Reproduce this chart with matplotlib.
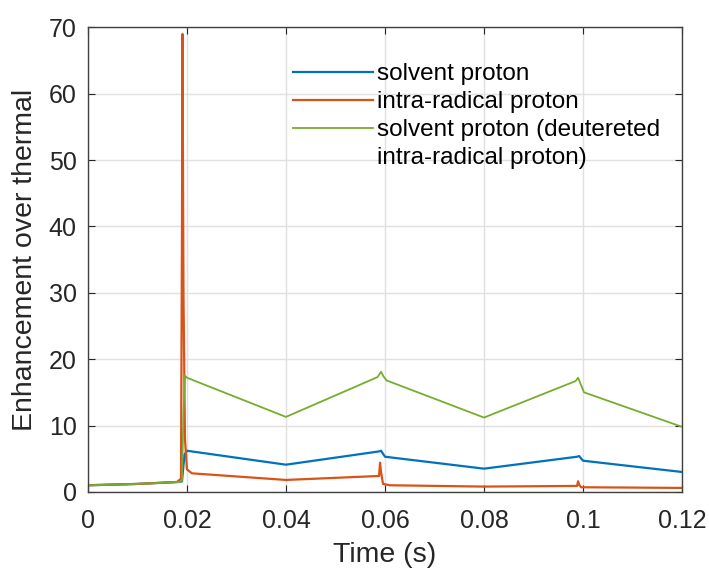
import numpy as np
import matplotlib
matplotlib.use('Agg')
import matplotlib.pyplot as plt
from matplotlib.lines import Line2D

plt.rcParams['font.family'] = ['Liberation Sans', 'DejaVu Sans']

# solvent proton (blue)
t_solv = [0, 0.010, 0.0185, 0.0190, 0.0195, 0.0200, 0.0400, 0.0588, 0.0592, 0.0600,
          0.0800, 0.0988, 0.0992, 0.1000, 0.1200]
v_solv = [1.0, 1.2, 1.5, 1.6, 5.6, 6.2, 4.1, 6.1, 6.2, 5.3,
          3.5, 5.3, 5.4, 4.7, 3.0]

# intra-radical proton (orange)
t_intra = [0, 0.010, 0.0180, 0.0188, 0.0190, 0.0191, 0.0193, 0.0196, 0.0200, 0.0210,
           0.0400, 0.0588, 0.0590, 0.0592, 0.0596, 0.0610, 0.0800, 0.0988, 0.0990,
           0.0992, 0.0996, 0.1000, 0.1200]
v_intra = [1.0, 1.2, 1.5, 2.0, 40.0, 69.0, 30.0, 8.0, 3.4, 2.8,
           1.8, 2.4, 4.4, 3.0, 1.2, 1.0, 0.8, 0.9, 1.6,
           1.1, 0.7, 0.7, 0.6]

# solvent proton, deuterated intra-radical proton (green)
t_deut = [0, 0.010, 0.0185, 0.0190, 0.0193, 0.0196, 0.0200, 0.0400, 0.0585, 0.0592,
          0.0597, 0.0603, 0.0800, 0.0985, 0.0990, 0.1002, 0.1200]
v_deut = [1.0, 1.2, 1.5, 1.7, 12.0, 17.5, 17.2, 11.3, 17.3, 18.1,
          17.4, 16.8, 11.2, 16.7, 17.2, 15.0, 9.8]

labels = ['solvent proton', 'intra-radical proton',
          'solvent proton (deutereted', 'intra-radical proton)']

fig = plt.figure(figsize=(7.09, 5.69), dpi=100)
ax = fig.add_axes([0.124, 0.1355, 0.838, 0.8165])

l1, = ax.plot(t_solv, v_solv, color='#0072BD', lw=1.6)
l2, = ax.plot(t_intra, v_intra, color='#D95319', lw=1.6)
l3, = ax.plot(t_deut, v_deut, color='#77AC30', lw=1.3)

ax.set_xlim(0, 0.12)
ax.set_ylim(0, 70)
ax.set_xticks([0, 0.02, 0.04, 0.06, 0.08, 0.1, 0.12])
ax.set_xticklabels(['0', '0.02', '0.04', '0.06', '0.08', '0.1', '0.12'])
ax.set_yticks(range(0, 80, 10))
ax.grid(True, color='#e0e0e0', lw=1.0)
ax.set_axisbelow(True)
ax.tick_params(direction='in', top=True, right=True, labelsize=18,
               length=5, color='#262626', labelcolor='#262626')
ax.tick_params(axis='x', pad=12)
ax.tick_params(axis='y', pad=8)
for s in ax.spines.values():
    s.set_color('#404040')
    s.set_linewidth(1.0)

ax.set_xlabel('Time (s)', fontsize=20.5, color='#262626', labelpad=7)
ax.set_ylabel('Enhancement over thermal', fontsize=20.5, color='#262626', labelpad=8)

blank = Line2D([], [], color='none')
ax.legend([l1, l2, l3, blank], labels, loc='upper left',
          bbox_to_anchor=(0.345, 0.923), frameon=False,
          fontsize=17.5, handlelength=3.3, labelspacing=0.25, handletextpad=0.15,
          borderaxespad=0, borderpad=0)

fig.savefig('out.png', dpi=100)
